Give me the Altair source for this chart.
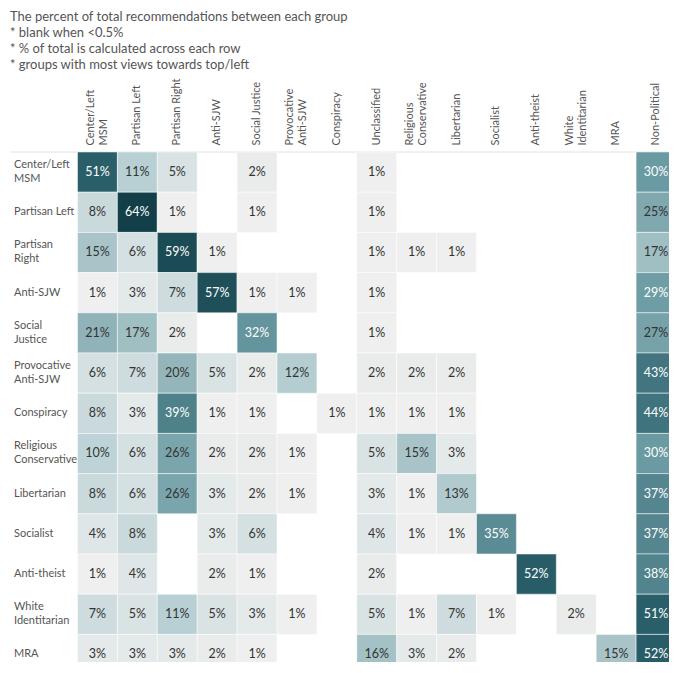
import altair as alt
import pandas as pd

rows = ["Center/Left MSM", "Partisan Left", "Partisan Right", "Anti-SJW", "Social Justice",
        "Provocative Anti-SJW", "Conspiracy", "Religious Conservative", "Libertarian",
        "Socialist", "Anti-theist", "White Identitarian", "MRA"]
cols = ["Center/Left MSM", "Partisan Left", "Partisan Right", "Anti-SJW", "Social Justice",
        "Provocative Anti-SJW", "Conspiracy", "Unclassified", "Religious Conservative",
        "Libertarian", "Socialist", "Anti-theist", "White Identitarian", "MRA", "Non-Political"]
N = None
values = [
    [51, 11, 5, N, 2, N, N, 1, N, N, N, N, N, N, 30],
    [8, 64, 1, N, 1, N, N, 1, N, N, N, N, N, N, 25],
    [15, 6, 59, 1, N, N, N, 1, 1, 1, N, N, N, N, 17],
    [1, 3, 7, 57, 1, 1, N, 1, N, N, N, N, N, N, 29],
    [21, 17, 2, N, 32, N, N, 1, N, N, N, N, N, N, 27],
    [6, 7, 20, 5, 2, 12, N, 2, 2, 2, N, N, N, N, 43],
    [8, 3, 39, 1, 1, N, 1, 1, 1, 1, N, N, N, N, 44],
    [10, 6, 26, 2, 2, 1, N, 5, 15, 3, N, N, N, N, 30],
    [8, 6, 26, 3, 2, 1, N, 3, 1, 13, N, N, N, N, 37],
    [4, 8, N, 3, 6, N, N, 4, 1, 1, 35, N, N, N, 37],
    [1, 4, N, 2, 1, N, N, 2, N, N, N, 52, N, N, 38],
    [7, 5, 11, 5, 3, 1, N, 5, 1, 7, 1, N, 2, N, 51],
    [3, 3, 3, 2, 1, N, N, 16, 3, 2, N, N, N, 15, 52],
]
title_lines = ["The percent of total recommendations between each group",
               "* blank when <0.5%",
               "* % of total is calculated across each row",
               "* groups with most views towards top/left"]
wrapped = {
    "Center/Left MSM": ["Center/Left", "MSM"],
    "Partisan Right": ["Partisan", "Right"],
    "Social Justice": ["Social", "Justice"],
    "Provocative Anti-SJW": ["Provocative", "Anti-SJW"],
    "Religious Conservative": ["Religious", "Conservative"],
    "White Identitarian": ["White", "Identitarian"],
}
wrapped_x = {
    "Center/Left MSM": ["Center/Left", "MSM"],
    "Provocative Anti-SJW": ["Provocative", "Anti-SJW"],
    "Religious Conservative": ["Religious", "Conservative"],
    "White Identitarian": ["White", "Identitarian"],
}

def label_expr(mapping):
    expr = "datum.label"
    for k, v in mapping.items():
        arr = "[" + ",".join("'" + s + "'" for s in v) + "]"
        expr = f"datum.label == '{k}' ? {arr} : ({expr})"
    return expr

def two_line_offset(mapping, off):
    names = "[" + ",".join("'" + k + "'" for k in mapping) + "]"
    return {"condition": {"test": f"indexof({names}, datum.value) >= 0", "value": off}, "value": 0}

recs = []
for r, rowvals in zip(rows, values):
    for c, v in zip(cols, rowvals):
        if v is not None:
            recs.append({"row": r, "col": c, "v": v, "lbl": f"{v}%"})
df = pd.DataFrame(recs)

FONT = "Lato"
CELL_W, CELL_H = 39.9, 40.2
W, H = CELL_W * len(cols), CELL_H * len(rows)   # right column / bottom row cut by the page edge

color_scale = alt.Scale(domain=[1, 11, 20, 30, 51, 64],
                        range=["#efefef", "#b8d0d4", "#94b6bb", "#6a9aa2", "#2a5f6a", "#123f48"],
                        interpolate="rgb")

x_enc = alt.X("col:N", sort=cols, title=None,
              scale=alt.Scale(paddingInner=0, paddingOuter=0),
              axis=alt.Axis(orient="top", labelAngle=270, labelAlign="left", labelBaseline="middle",
                            labelPadding=7, ticks=False, tickSize=0, domain=False,
                            labelExpr=label_expr(wrapped_x), labelLineHeight=13,
                            labelOffset=two_line_offset(wrapped_x, -6.5),
                            labelFont=FONT, labelFontSize=11, labelColor="#555"))
y_enc = alt.Y("row:N", sort=rows, title=None,
              scale=alt.Scale(paddingInner=0, paddingOuter=0),
              axis=alt.Axis(labelAlign="left", labelBaseline="middle", labelPadding=64,
                            ticks=False, tickSize=0, domain=False,
                            labelExpr=label_expr(wrapped), labelLineHeight=14,
                            labelOffset=two_line_offset(wrapped, -7),
                            labelFont=FONT, labelFontSize=11, labelColor="#555"))

base = alt.Chart(df)
rule = alt.Chart(pd.DataFrame({"a": [0]})).mark_rule(color="#e2e2e2", strokeWidth=1).encode(
    x=alt.value(-67), x2=alt.value(W), y=alt.value(0))
rects = base.mark_rect(stroke="white", strokeWidth=0.5).encode(
    x=x_enc, y=y_enc,
    color=alt.Color("v:Q", scale=color_scale, legend=None))
texts = base.mark_text(font=FONT, fontSize=12.5).encode(
    x=x_enc, y=y_enc, text="lbl:N",
    color=alt.condition(alt.datum.v >= 28, alt.value("white"), alt.value("#333333")))

chart = alt.layer(rule, rects, texts).properties(
    width=W, height=H,
    padding={"left": 1.5, "top": 2, "right": -8, "bottom": -14},
    title=alt.TitleParams(text=title_lines, anchor="start", frame="bounds", font=FONT,
                          fontSize=13, fontWeight="normal", color="#555", lineHeight=16,
                          offset=6),
).configure_view(stroke=None)

chart.save("out.html", embed_options={"renderer": "svg", "actions": False})
